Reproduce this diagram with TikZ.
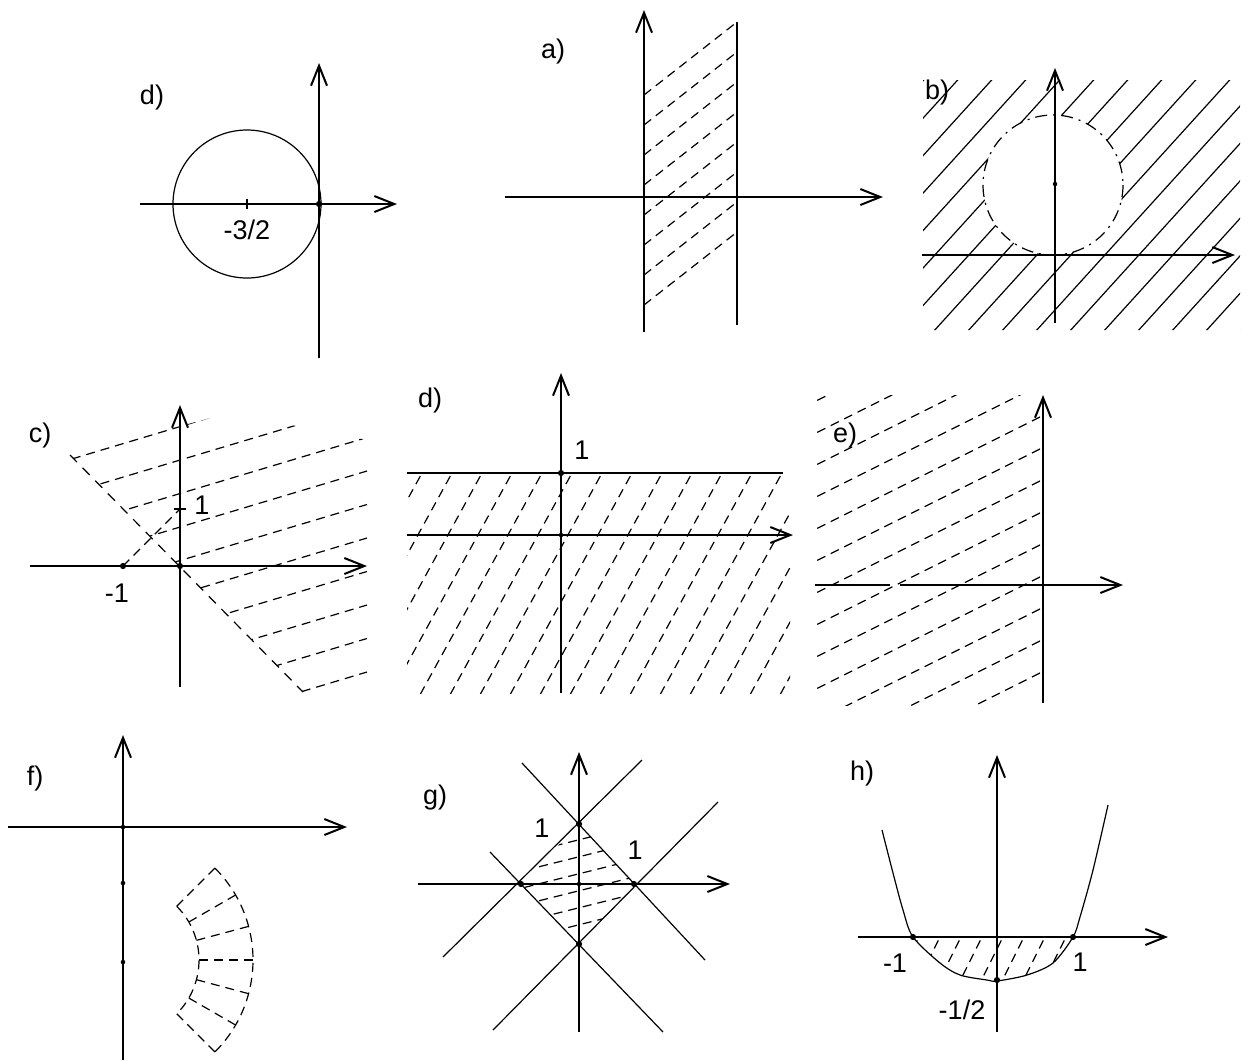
\documentclass[tikz,border=0pt]{standalone}
\usepackage{fontspec}
\setmainfont{Liberation Sans}
\usetikzlibrary{arrows.meta}

\begin{document}
\begin{tikzpicture}[
  x=0.5pt, y=-0.5pt,
  axis/.style ={line width=1pt, -{Straight Barb[length=10pt,width=8pt]}},
  bar/.style  ={line width=1pt},
  curve/.style={line width=0.6pt},
  hatch/.style={line width=0.6pt, dash pattern=on 4.5pt off 3pt},
  cdash/.style={line width=0.6pt, dash pattern=on 6pt off 3pt on 1pt off 3pt},
  pnt/.style  ={circle, fill, inner sep=1.1pt},
  lab/.style  ={inner sep=0pt, font=\fontsize{13.5}{16}\selectfont}
  ]
  \useasboundingbox (0,0) rectangle (1258,1062);

  % d) circle
  \draw[curve] (247,204) circle (74);
  \draw[curve] (247,199) -- (247,209);
  \draw[axis] (140,204) -- (397,204);
  \draw[axis] (319,358) -- (319,63);
  \node[pnt] (d1o) at (319,204) {};
  \node[lab] (d1c) at (247,230) {-3/2};
  \node[lab] (d1t) at (152,98) {d)};

  % a) strip
  \foreach \y in {95,125,...,305}
    \draw[hatch] (644,\y) -- (737,\y-73);
  \draw[curve] (737,325) -- (737,22);
  \draw[axis] (505,197) -- (883,197);
  \draw[axis] (644,332) -- (644,10);
  \node[lab] (at) at (553,52) {a)};

  % b) outside of circle
  \begin{scope}[even odd rule]
    \clip (923,80) rectangle (1240,330) (1053,185) circle (70);
    \foreach \k in {-5,...,11}
      \draw[curve] ({935+34*\k-80},343) -- ({935+34*\k+165},73);
  \end{scope}
  \draw[cdash] (1053,185) circle (70);
  \draw[axis] (922,255) -- (1235,255);
  \draw[axis] (1055,323) -- (1055,68);
  \node[pnt, inner sep=0.8pt] (bc) at (1055,184) {};
  \node[lab] (bt) at (937,93) {b)};

  % c) half plane
  \begin{scope}
    \clip (70,455) -- (230,413) -- (367,440) -- (367,692) -- (303,692) -- cycle;
    \foreach \k in {0,...,9}
      \draw[hatch] (0,{672-33.5*\k+110}) -- (367,{672-33.5*\k});
  \end{scope}
  \draw[curve, dash pattern=on 5pt off 4pt] (70,455) -- (303,692);
  \draw[hatch] (123,566) -- (180,509);
  \draw[curve] (174,509) -- (186,509);
  \draw[axis] (30,566) -- (367,566);
  \draw[axis] (180,687) -- (180,405);
  \node[pnt] (cm) at (123,566) {};
  \node[pnt] (co) at (180,566) {};
  \node[lab] (cl1) at (117,593) {-1};
  \node[lab] (cl2) at (202,505) {1};
  \node[lab] (ct) at (40,435) {c)};

  % d) below y = 1
  \begin{scope}
    \clip (407,473) rectangle (790,693);
    \foreach \k in {-1,...,17}
      \draw[hatch] ({422+30*\k+5.5},463) -- ({422+30*\k-126.5},703);
  \end{scope}
  \draw[bar] (407,473) -- (783,473);
  \draw[axis] (407,535) -- (793,535);
  \draw[axis] (561,693) -- (561,373);
  \node[pnt] (d2a) at (561,473) {};
  \node[pnt, inner sep=0.8pt] (d2o) at (561,535) {};
  \node[lab] (d2l) at (582,450) {1};
  \node[lab] (d2t) at (430,400) {d)};

  % e) left half plane
  \begin{scope}
    \clip (815,395) rectangle (1040,705);
    \foreach \k in {0,...,12}
      \draw[hatch] (1040,{673-32*\k}) -- (815,{673-32*\k+112.5});
  \end{scope}
  \draw[bar] (815,585) -- (890,585);
  \draw[axis] (900,585) -- (1123,585);
  \draw[axis] (1043,703) -- (1043,395);
  \node[lab] (et) at (845,435) {e)};

  % f) annular sector
  \draw[axis] (8,827) -- (347,827);
  \draw[axis] (123,1060) -- (123,735);
  \node[pnt, inner sep=0.8pt] (fo) at (123,827) {};
  \node[pnt, inner sep=0.8pt] (f1) at (123,883) {};
  \node[pnt, inner sep=0.8pt] (fc) at (123,962) {};
  \begin{scope}[shift={(123,960)}]
    \draw[hatch] (-45:76) arc (-45:45:76);
    \draw[hatch] (-45:130) arc (-45:45:130);
    \foreach \a in {-45,-30,...,45}
      \draw[hatch] (\a:76) -- (\a:130);
  \end{scope}
  \node[lab] (ft) at (35,778) {f)};

  % g) square
  \begin{scope}
    \clip (579,824) -- (634,884) -- (579,944) -- (521,884) -- cycle;
    \foreach \k in {0,...,5}
      \draw[hatch] (510,{840+17*\k+17}) -- (650,{840+17*\k-18});
  \end{scope}
  \draw[curve] (522,763) -- (705,960);
  \draw[curve] (490,852) -- (663,1032);
  \draw[curve] (443,957) -- (642,760);
  \draw[curve] (493,1030) -- (718,802);
  \draw[axis] (418,884) -- (730,884);
  \draw[axis] (579,1032) -- (579,752);
  \node[pnt] (gu) at (579,824) {};
  \node[pnt] (gr) at (634,884) {};
  \node[pnt] (gd) at (579,944) {};
  \node[pnt] (gl) at (521,884) {};
  \node[pnt, inner sep=0.8pt] (go) at (579,884) {};
  \node[lab] (gl1) at (542,828) {1};
  \node[lab] (gl2) at (635,850) {1};
  \node[lab] (gt) at (435,798) {g)};

  % h) under the curve
  \begin{scope}
    \clip plot[smooth] coordinates {(913,937) (940,963) (960,975) (987,980) (997,981) (1027,975) (1053,963) (1073,937)} -- cycle;
    \foreach \k in {-2,...,7}
      \draw[hatch] ({940+21*\k+5},927) -- ({940+21*\k-29},995);
  \end{scope}
  \draw[curve] plot[smooth] coordinates {(882,830) (893,873) (903,910) (913,937) (940,963) (960,975) (987,980) (997,981) (1027,975) (1053,963) (1073,937) (1080,917) (1093,870) (1108,805)};
  \draw[axis] (858,937) -- (1168,937);
  \draw[axis] (997,1032) -- (997,755);
  \node[pnt] (hl) at (913,937) {};
  \node[pnt] (hr) at (1073,937) {};
  \node[pnt] (hm) at (997,980) {};
  \node[lab] (hl1) at (895,963) {-1};
  \node[lab] (hl2) at (1080,962) {1};
  \node[lab] (hl3) at (962,1010) {-1/2};
  \node[lab] (ht) at (862,773) {h)};

\end{tikzpicture}
\end{document}
